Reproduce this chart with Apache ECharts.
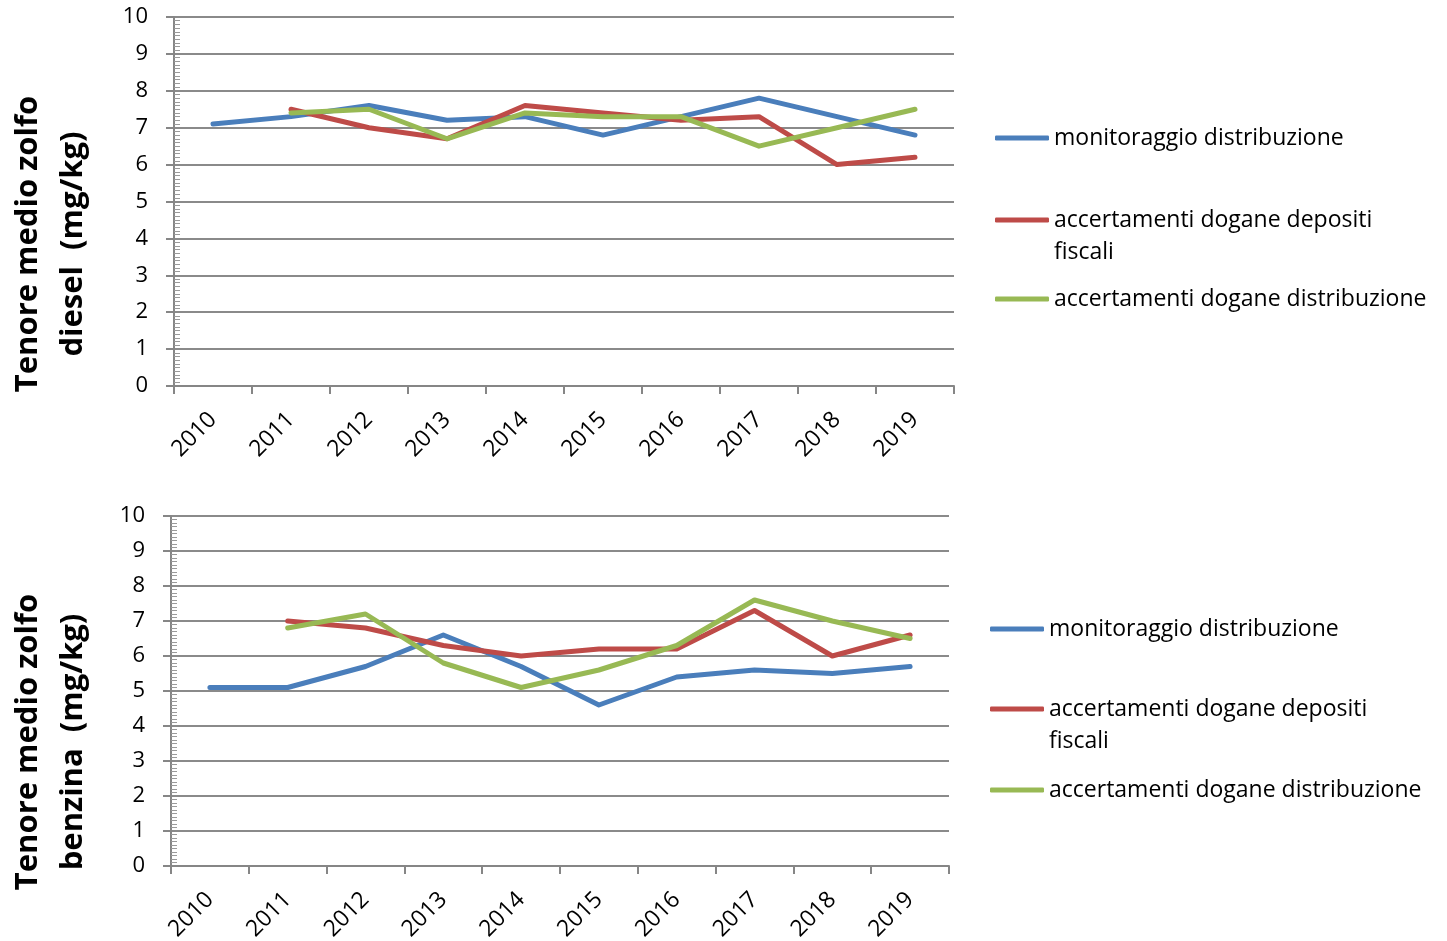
<!DOCTYPE html>
<html>
<head>
<meta charset="utf-8">
<script src="https://cdn.jsdelivr.net/npm/echarts@6/dist/echarts.min.js"></script>
<style>
    html, body { margin: 0; padding: 0; background: #fff; }
    #chart { width: 1447px; height: 941px; }
</style>
</head>
<body>
<div id="chart"></div>
<script>
var years = ['2010', '2011', '2012', '2013', '2014', '2015', '2016', '2017', '2018', '2019']
var yTicks = [0, 1, 2, 3, 4, 5, 6, 7, 8, 9, 10]
var seriesNames = ['monitoraggio distribuzione', 'accertamenti dogane depositi fiscali', 'accertamenti dogane distribuzione']

// diesel
var dieselMonitoraggio = [7.1, 7.3, 7.6, 7.2, 7.3, 6.8, 7.3, 7.8, 7.3, 6.8]
var dieselDepositi = [null, 7.5, 7.0, 6.7, 7.6, 7.4, 7.2, 7.3, 6.0, 6.2]
var dieselDistribuzione = [null, 7.4, 7.5, 6.7, 7.4, 7.3, 7.3, 6.5, 7.0, 7.5]

// benzina
var benzinaMonitoraggio = [5.1, 5.1, 5.7, 6.6, 5.7, 4.6, 5.4, 5.6, 5.5, 5.7]
var benzinaDepositi = [null, 7.0, 6.8, 6.3, 6.0, 6.2, 6.2, 7.3, 6.0, 6.6]
var benzinaDistribuzione = [null, 6.8, 7.2, 5.8, 5.1, 5.6, 6.3, 7.6, 7.0, 6.5]

var colors = ['#4a7ebb', '#be4b48', '#98b954']
var font = 'Open Sans'

function xAxisFor(gridIndex) {
    return {
        type: 'category',
        gridIndex: gridIndex,
        data: years,
        boundaryGap: true,
        axisLine: { lineStyle: { color: '#868686', width: 2 } },
        axisTick: { show: true, length: 8, lineStyle: { color: '#868686', width: 2 } },
        axisLabel: { rotate: 45, fontSize: 23, color: '#000', fontFamily: font, margin: 30 },
        splitLine: { show: false }
    }
}

function yAxisFor(gridIndex) {
    return {
        type: 'value',
        gridIndex: gridIndex,
        min: yTicks[0],
        max: yTicks[yTicks.length - 1],
        interval: 1,
        axisLine: { show: true, lineStyle: { color: '#868686', width: 2 } },
        axisTick: { show: true, length: 8, lineStyle: { color: '#868686', width: 2 } },
        minorTick: { show: true, splitNumber: 10, length: -6, lineStyle: { color: '#9a9a9a', width: 1 } },
        axisLabel: { fontSize: 22, color: '#000', fontFamily: font, margin: 26 },
        splitLine: { show: true, lineStyle: { color: '#8a8a8a', width: 2 } }
    }
}

function lineSeries(name, data, idx, axisIndex) {
    return {
        name: name,
        type: 'line',
        xAxisIndex: axisIndex,
        yAxisIndex: axisIndex,
        data: data,
        symbol: 'none',
        lineStyle: { color: colors[idx], width: 5, cap: 'round', join: 'round' },
        itemStyle: { color: colors[idx] },
        connectNulls: false,
        z: 3 + idx
    }
}

// the wrapped legend entry gets an empty first line so that its first
// text line sits level with the legend symbol
function legendItem(name, top, left, multi) {
    return {
        orient: 'vertical',
        left: left,
        top: top,
        data: [name],
        icon: 'roundRect',
        itemWidth: 54,
        itemHeight: 5,
        itemGap: 0,
        selectedMode: false,
        formatter: function (n) {
            return multi ? ' \naccertamenti dogane depositi\nfiscali' : n
        },
        textStyle: {
            fontSize: 23,
            fontFamily: font,
            color: '#000',
            lineHeight: 32
        }
    }
}

var myChart = echarts.init(document.getElementById('chart'))

var option = {
    animation: false,
    color: colors,
    grid: [
        { left: 174, top: 17, width: 780, height: 369, outerBoundsMode: 'none' },
        { left: 171, top: 516, width: 778, height: 350, outerBoundsMode: 'none' }
    ],
    xAxis: [xAxisFor(0), xAxisFor(1)],
    yAxis: [yAxisFor(0), yAxisFor(1)],
    legend: [
        legendItem(seriesNames[0], 117, 990, false),
        legendItem(seriesNames[1], 167, 990, true),
        legendItem(seriesNames[2], 278, 990, false),
        legendItem(seriesNames[0], 608, 985, false),
        legendItem(seriesNames[1], 656, 985, true),
        legendItem(seriesNames[2], 769, 985, false)
    ],
    graphic: [
        {
            type: 'text',
            x: 51,
            y: 244,
            rotation: Math.PI / 2,
            style: {
                text: 'Tenore medio zolfo\ndiesel  (mg/kg)',
                fontSize: 31,
                fontWeight: 'bold',
                fontFamily: font,
                lineHeight: 45,
                fill: '#000',
                align: 'center',
                verticalAlign: 'middle'
            }
        },
        {
            type: 'text',
            x: 51,
            y: 742,
            rotation: Math.PI / 2,
            style: {
                text: 'Tenore medio zolfo\nbenzina  (mg/kg)',
                fontSize: 31,
                fontWeight: 'bold',
                fontFamily: font,
                lineHeight: 45,
                fill: '#000',
                align: 'center',
                verticalAlign: 'middle'
            }
        }
    ],
    series: [
        lineSeries(seriesNames[0], dieselMonitoraggio, 0, 0),
        lineSeries(seriesNames[1], dieselDepositi, 1, 0),
        lineSeries(seriesNames[2], dieselDistribuzione, 2, 0),
        lineSeries(seriesNames[0], benzinaMonitoraggio, 0, 1),
        lineSeries(seriesNames[1], benzinaDepositi, 1, 1),
        lineSeries(seriesNames[2], benzinaDistribuzione, 2, 1)
    ]
}

myChart.setOption(option)
</script>
</body>
</html>
